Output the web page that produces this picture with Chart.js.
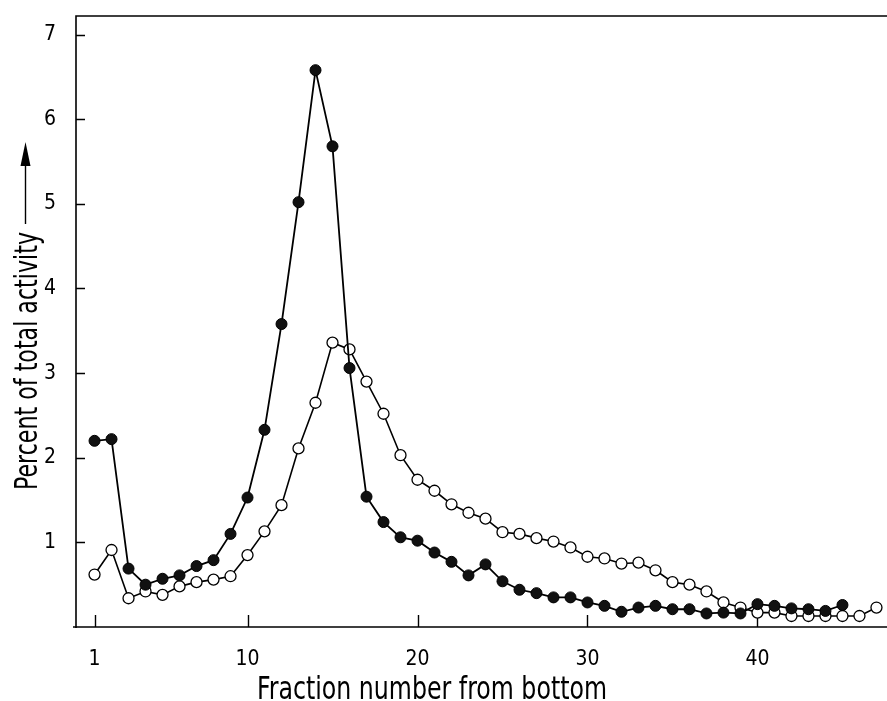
<!DOCTYPE html>
<html>
<head>
<meta charset="utf-8">
<title>Percent of total activity by fraction</title>
<script src="https://cdn.jsdelivr.net/npm/chart.js@4.4.1/dist/chart.umd.min.js"></script>
<style>
  html, body { margin: 0; padding: 0; background: #fff; }
  #wrap { width: 887px; height: 701px; }
</style>
</head>
<body>
<div id="wrap"><canvas id="chart" width="887" height="701"></canvas></div>
<script>
// fraction numbers, counted from the bottom of the gradient
const fractions = [
  1, 2, 3, 4, 5, 6, 7, 8, 9, 10, 11, 12, 13, 14, 15, 16, 17, 18, 19, 20,
  21, 22, 23, 24, 25, 26, 27, 28, 29, 30, 31, 32, 33, 34, 35, 36, 37, 38, 39, 40,
  41, 42, 43, 44, 45, 46, 47
];

// filled circles (fractions 1-45)
const filledValues = [
  2.20, 2.22, 0.69, 0.50, 0.57, 0.61, 0.72, 0.79, 1.10, 1.53,
  2.33, 3.58, 5.02, 6.58, 5.68, 3.06, 1.54, 1.24, 1.06, 1.02,
  0.88, 0.77, 0.61, 0.74, 0.54, 0.44, 0.40, 0.35, 0.35, 0.29,
  0.25, 0.18, 0.23, 0.25, 0.21, 0.21, 0.16, 0.17, 0.16, 0.27,
  0.25, 0.22, 0.21, 0.19, 0.26
];

// open circles (fractions 1-47)
const openValues = [
  0.62, 0.91, 0.34, 0.42, 0.38, 0.48, 0.53, 0.56, 0.60, 0.85,
  1.13, 1.44, 2.11, 2.65, 3.36, 3.28, 2.90, 2.52, 2.03, 1.74,
  1.61, 1.45, 1.35, 1.28, 1.12, 1.10, 1.05, 1.01, 0.94, 0.83,
  0.81, 0.75, 0.76, 0.67, 0.53, 0.50, 0.42, 0.29, 0.23, 0.17,
  0.17, 0.13, 0.13, 0.13, 0.13, 0.13, 0.23
];

const xTicks = [1, 10, 20, 30, 40];
const yTicks = [1, 2, 3, 4, 5, 6, 7];

const X_TITLE = 'Fraction number from bottom';
const Y_TITLE = 'Percent of total activity';

const FONT = "'DejaVu Sans Condensed', 'Liberation Sans Narrow', sans-serif";

function toPoints(values) {
  return values.map((v, i) => ({ x: fractions[i], y: v }));
}

// axes drawn by hand: open frame with inward tick marks
const framePlugin = {
  id: 'frame',
  beforeDatasetsDraw(chart) {
    const { ctx, chartArea: a, scales } = chart;
    ctx.save();
    ctx.strokeStyle = '#000';
    ctx.lineWidth = 1.6;
    ctx.beginPath();
    ctx.moveTo(a.right, a.top);
    ctx.lineTo(a.left, a.top);
    ctx.lineTo(a.left, a.bottom + 1);
    ctx.moveTo(a.left - 3, a.bottom);
    ctx.lineTo(a.right, a.bottom);
    ctx.stroke();

    ctx.lineWidth = 1.4;
    ctx.beginPath();
    yTicks.forEach((v) => {
      const y = Math.round(scales.y.getPixelForValue(v)) + 0.5;
      ctx.moveTo(a.left, y);
      ctx.lineTo(a.left + 9, y);
    });
    xTicks.forEach((v) => {
      const x = Math.round(scales.x.getPixelForValue(v)) + 0.5;
      ctx.moveTo(x, a.bottom);
      ctx.lineTo(x, a.bottom - 12);
    });
    ctx.stroke();
    ctx.restore();
  },
  afterDraw(chart) {
    const { ctx } = chart;
    ctx.save();
    ctx.fillStyle = '#000';
    ctx.strokeStyle = '#000';

    // x title
    ctx.font = '32px ' + FONT;
    ctx.textAlign = 'center';
    ctx.textBaseline = 'alphabetic';
    ctx.fillText(X_TITLE, 432, 699, 350);

    // y title, rotated, followed by an upward arrow
    ctx.save();
    ctx.translate(37, 490);
    ctx.rotate(-Math.PI / 2);
    ctx.textAlign = 'left';
    ctx.fillText(Y_TITLE, 0, 0, 258);
    ctx.restore();

    ctx.lineWidth = 1.4;
    ctx.beginPath();
    ctx.moveTo(25.5, 224);
    ctx.lineTo(25.5, 162);
    ctx.stroke();
    ctx.beginPath();
    ctx.moveTo(25.5, 142);
    ctx.lineTo(30.5, 166);
    ctx.lineTo(20.5, 166);
    ctx.closePath();
    ctx.fill();
    ctx.restore();
  }
};

new Chart(document.getElementById('chart'), {
  type: 'line',
  data: {
    datasets: [
      {
        label: 'filled',
        data: toPoints(filledValues),
        borderColor: '#000',
        borderWidth: 1.8,
        backgroundColor: '#000',
        pointBackgroundColor: '#111',
        pointBorderColor: '#000',
        pointBorderWidth: 1,
        pointRadius: 5.5,
        tension: 0
      },
      {
        label: 'open',
        data: toPoints(openValues),
        borderColor: '#000',
        borderWidth: 1.6,
        backgroundColor: '#fff',
        pointBackgroundColor: '#fff',
        pointBorderColor: '#000',
        pointBorderWidth: 1.3,
        pointRadius: 5.5,
        tension: 0
      }
    ]
  },
  options: {
    responsive: false,
    animation: false,
    devicePixelRatio: 1,
    layout: { autoPadding: false, padding: { top: 16, right: 0, bottom: 0, left: 0 } },
    plugins: {
      legend: { display: false },
      tooltip: { enabled: false }
    },
    scales: {
      x: {
        type: 'linear',
        min: -0.09,
        max: 47.62,
        afterBuildTicks: (s) => { s.ticks = xTicks.map((v) => ({ value: v })); },
        afterFit: (s) => {
          s.height = 74;
          s.paddingLeft = 0;
          s.paddingRight = 0;
        },
        grid: { display: false, drawTicks: false },
        border: { display: false },
        ticks: {
          color: '#000',
          padding: 20,
          maxRotation: 0,
          font: { family: FONT, size: 21 }
        }
      },
      y: {
        min: 0,
        max: 7.22,
        afterBuildTicks: (s) => { s.ticks = yTicks.map((v) => ({ value: v })); },
        afterFit: (s) => {
          s.width = 76;
          s.paddingTop = 0;
          s.paddingBottom = 0;
        },
        grid: { display: false, drawTicks: false },
        border: { display: false },
        ticks: {
          color: '#000',
          padding: 20,
          font: { family: FONT, size: 21 }
        }
      }
    }
  },
  plugins: [framePlugin]
});
</script>
</body>
</html>
